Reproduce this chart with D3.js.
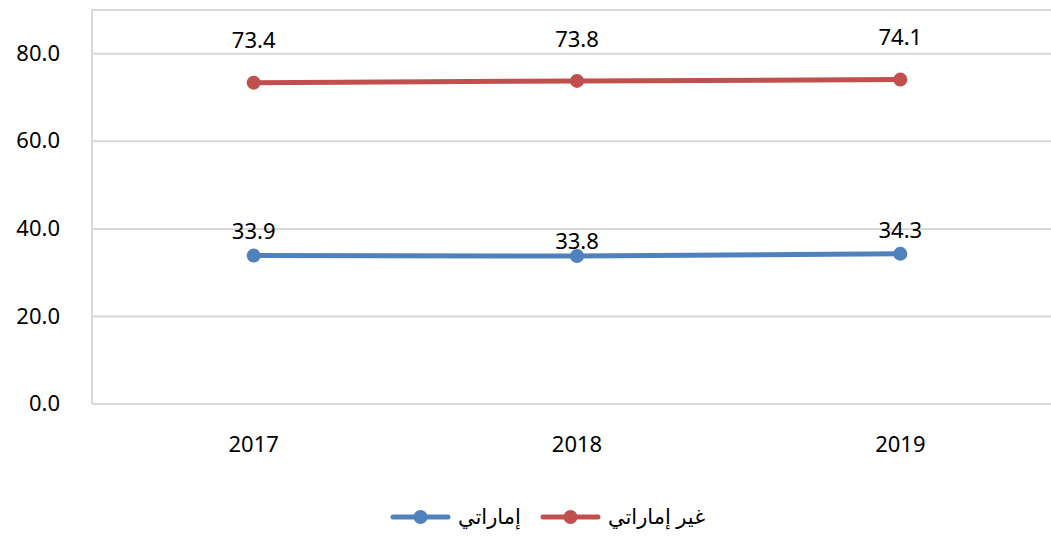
<!DOCTYPE html>
<html>
<head>
<meta charset="utf-8">
<script src="https://cdn.jsdelivr.net/npm/d3@7"></script>
<style>
  body { margin: 0; background: #fff; }
  text { font-family: "Noto Sans", "DejaVu Sans", sans-serif; fill: #000; }
</style>
</head>
<body>
<script>
// DATA
const years = ["2017", "2018", "2019"];
const emirati = [33.9, 33.8, 34.3];
const nonEmirati = [73.4, 73.8, 74.1];
const yTicks = [0, 20, 40, 60, 80];
const seriesNames = ["إماراتي", "غير إماراتي"];
const colors = ["#4f81bd", "#c0504d"];

const W = 1051;
const H = 537;
const padLeft = 92, padRight = 1062, padTop = 10, padBottom = 404;

const svg = d3.select("body")
  .append("svg")
  .attr("width", W)
  .attr("height", H);

const xScale = d3.scaleBand().domain(years).range([padLeft, padRight]);
const yScale = d3.scaleLinear().domain([0, 90]).range([padBottom, padTop]);

// gridlines
svg.append("g")
  .selectAll("line")
  .data(yTicks.concat([90]))
  .enter()
  .append("line")
  .attr("x1", padLeft)
  .attr("x2", padRight)
  .attr("y1", d => yScale(d))
  .attr("y2", d => yScale(d))
  .attr("stroke", "#d9d9d9")
  .attr("stroke-width", 2);

svg.append("line")
  .attr("x1", padLeft).attr("x2", padLeft)
  .attr("y1", padTop).attr("y2", padBottom)
  .attr("stroke", "#d9d9d9")
  .attr("stroke-width", 2);

const yAxis = d3.axisLeft(yScale)
  .tickValues(yTicks)
  .tickFormat(d3.format(".1f"))
  .tickSize(0)
  .tickPadding(32);

svg.append("g")
  .attr("transform", `translate(${padLeft},0)`)
  .call(yAxis)
  .call(g => g.select(".domain").remove())
  .selectAll("text")
  .style("font-size", "22px")
  .attr("dy", "0.3em");

const xAxis = d3.axisBottom(xScale).tickSize(0).tickPadding(32);

svg.append("g")
  .attr("transform", `translate(0,${padBottom})`)
  .call(xAxis)
  .call(g => g.select(".domain").remove())
  .selectAll("text")
  .style("font-size", "22px");

// lines
const cx = d => xScale(d) + xScale.bandwidth() / 2;
const line = d3.line()
  .x((d, i) => cx(years[i]))
  .y(d => yScale(d));

const labelDy = [[-24, -15, -24], [-42, -42, -42]];

[emirati, nonEmirati].forEach((vals, s) => {
  svg.append("path")
    .datum(vals)
    .attr("d", line)
    .attr("fill", "none")
    .attr("stroke", colors[s])
    .attr("stroke-width", 5)
    .attr("stroke-linecap", "round");

  svg.append("g")
    .selectAll("circle")
    .data(vals)
    .enter()
    .append("circle")
    .attr("cx", (d, i) => cx(years[i]))
    .attr("cy", d => yScale(d))
    .attr("r", 7)
    .attr("fill", colors[s]);

  svg.append("g")
    .selectAll("text")
    .data(vals)
    .enter()
    .append("text")
    .attr("x", (d, i) => cx(years[i]))
    .attr("y", (d, i) => yScale(d) + labelDy[s][i])
    .attr("dy", "0.35em")
    .attr("text-anchor", "middle")
    .style("font-size", "22px")
    .text(d => d.toFixed(1));
});

// legend
const legendX = [393, 543];
const legend = svg.append("g").attr("transform", "translate(0,517)");
seriesNames.forEach((name, s) => {
  const g = legend.append("g").attr("transform", `translate(${legendX[s]},0)`);
  g.append("line")
    .attr("x1", 0).attr("x2", 55)
    .attr("stroke", colors[s])
    .attr("stroke-width", 5)
    .attr("stroke-linecap", "round");
  g.append("circle").attr("cx", 27.5).attr("r", 7).attr("fill", colors[s]);
  g.append("text")
    .attr("x", 65)
    .attr("dy", "0.35em")
    .attr("direction", "rtl")
    .attr("text-anchor", "end")
    .style("font-size", "21px")
    .text(name);
});
</script>
</body>
</html>
